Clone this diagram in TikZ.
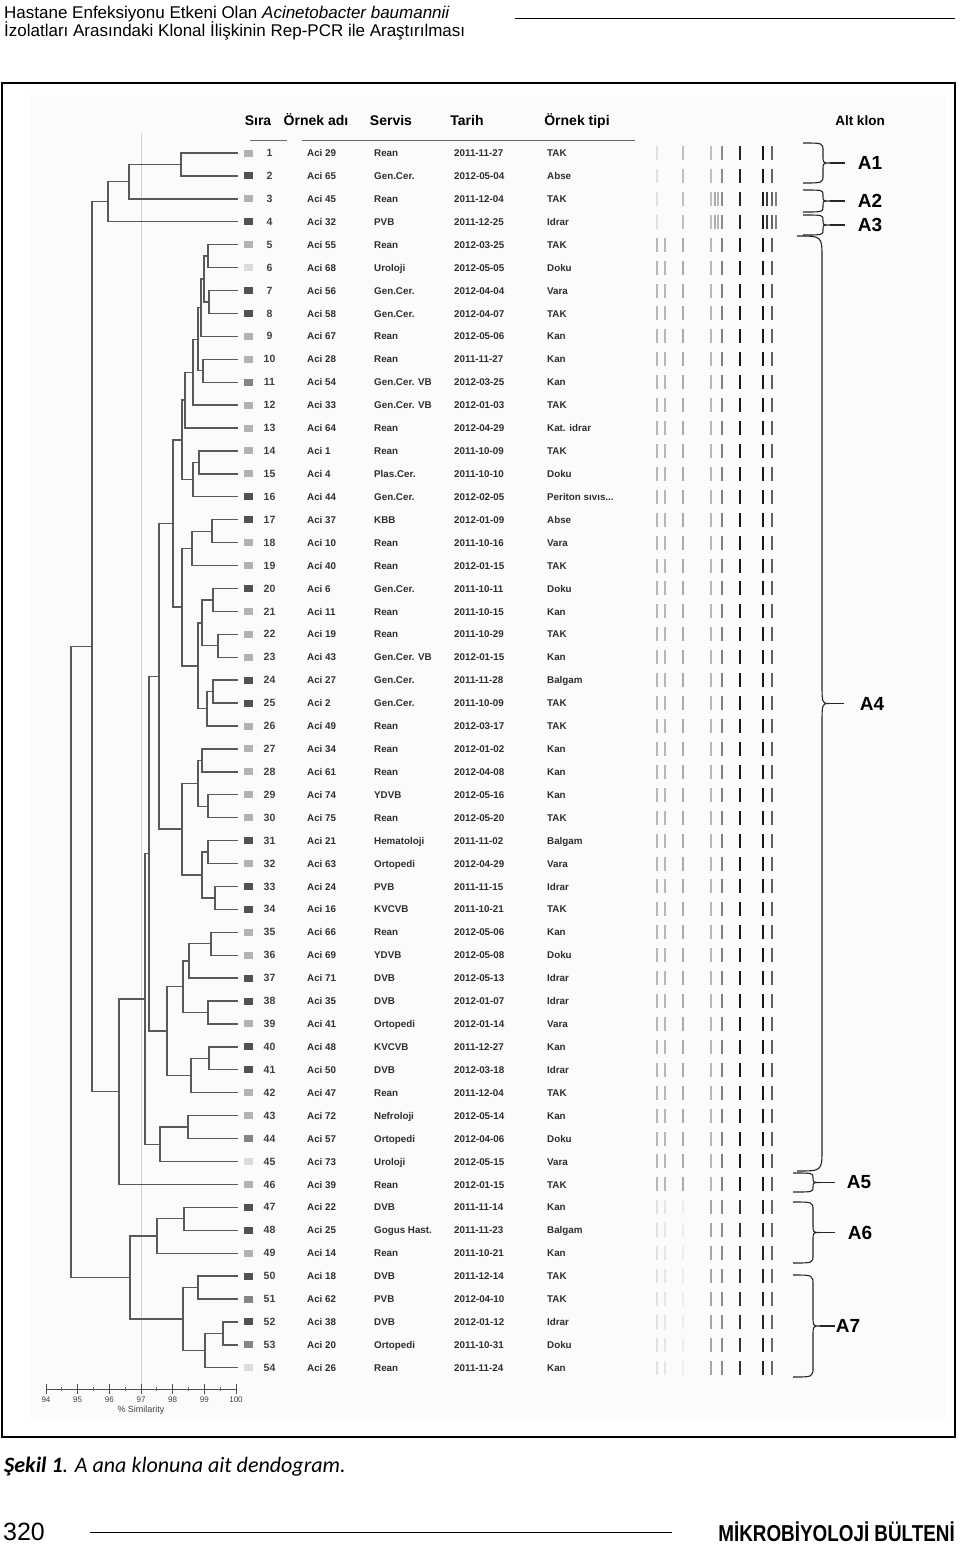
\documentclass[tikz,border=0pt]{standalone}
\usepackage{fontspec}
\setmainfont{Liberation Sans}
\newfontfamily\capfont{Carlito}
\usepackage{graphicx}
\usetikzlibrary{calc}
\colorlet{shl}{black!30}
\colorlet{shd}{black!68}
\colorlet{shm}{black!48}
\colorlet{shv}{black!14}
\newcommand\jn[4]{%
  \coordinate (tmpm) at ($(#3)!0.5!(#4)$);
  \coordinate (tmpx) at (#2,0);
  \coordinate (#1) at (tmpx |- tmpm);
  \draw[dend] (#3) -| (#1) |- (#4);
}
\newcommand\tabrow[6]{%
  \pgfmathsetmacro\yy{153+(#1-1)*22.92}
  \pgfmathsetmacro\yb{\yy+3.6}
  \fill[sh#6] (244,{\yy-3.5}) rectangle (253,{\yy+3.5});
  \node[num] (q#1) at (269.5,\yb) {#1};
  \node[tab] (a#1) at (307,\yb) {#2};
  \node[tab] (s#1) at (374,\yb) {#3};
  \node[tab] (d#1) at (454,\yb) {#4};
  \node[tab] (t#1) at (547,\yb) {#5};
}
\newcommand\cbr[7]{% top, bottom, r, xend, xv, label, labelx
  \pgfmathsetmacro\ym{(#1+#2)/2}
  \draw[brc] (#4,#1) .. controls (#5,#1) .. (#5,{#1+#3}) -- (#5,{\ym-#3})
     .. controls (#5,\ym) .. ({#5+7},\ym) .. controls (#5,\ym) .. (#5,{\ym+#3})
     -- (#5,{#2-#3}) .. controls (#5,#2) .. (#4,#2);
  \draw[brc] ({#5+7},\ym) -- ({#5+22},\ym);
  \node[alab] (#6) at (#7,\ym) {#6};
}
\begin{document}
\begin{tikzpicture}[x=1pt,y=-1pt,
  dend/.style={draw=black!65, line width=1.35pt},
  tab/.style={font=\fontsize{9.8}{10}\selectfont\bfseries, text=black!82, inner sep=0, anchor=base west},
  num/.style={font=\fontsize{10.5}{11}\selectfont\bfseries, text=black!75, inner sep=0, anchor=base},
  hdr/.style={font=\fontsize{14}{14}\selectfont\bfseries, inner sep=0, anchor=base},
  brc/.style={draw=black!85, line width=1.1pt},
  alab/.style={font=\fontsize{19}{19}\selectfont\bfseries, inner sep=0},
  axl/.style={font=\fontsize{8}{8}\selectfont, text=black!75, inner sep=0}
]
\useasboundingbox (0,0) rectangle (960,1547);
% page header
\node[anchor=base west, inner sep=0, font=\fontsize{17}{17}\selectfont] (h1) at (4,18) {Hastane Enfeksiyonu Etkeni Olan \textit{Acinetobacter baumannii}};
\node[anchor=base west, inner sep=0, font=\fontsize{17}{17}\selectfont] (h2) at (4,36) {İzolatları Arasındaki Klonal İlişkinin Rep-PCR ile Araştırılması};
\draw[line width=1pt] (515,18) -- (955,18);
% figure panel
\fill[black!1.5] (30,95) rectangle (945,1420);
\draw[line width=2.2pt] (2,83) rectangle (955,1437);
% table header
\node[hdr] (hs) at (258,125) {Sıra};
\node[hdr] (ho) at (316,125) {Örnek adı};
\node[hdr] (hv) at (391,125) {Servis};
\node[hdr] (ht) at (467,125) {Tarih};
\node[hdr] (hp) at (577,125) {Örnek tipi};
\node[hdr, font=\fontsize{13.5}{14}\selectfont\bfseries] (hk) at (860,125) {Alt klon};
\draw[black!60, line width=1pt] (250,140) -- (287,140);
\draw[black!60, line width=1pt] (302,140) -- (635,140);
% similarity cut line
\draw[black!18, line width=0.8pt] (141,133) -- (141,1389);
% leaves
\foreach \i in {1,...,54}{
  \coordinate (l\i) at (238,{153+(\i-1)*22.92});
}
% dendrogram
\jn{j12}{181}{l1}{l2}
\jn{j13}{129}{j12}{l3}
\jn{j14}{108}{j13}{l4}
\jn{j56}{208}{l5}{l6}
\jn{j78}{209}{l7}{l8}
\jn{j58}{204}{j56}{j78}
\jn{j59}{201}{j58}{l9}
\jn{j1011}{203}{l10}{l11}
\jn{j511}{198}{j59}{j1011}
\jn{j512}{193}{j511}{l12}
\jn{j513}{185}{j512}{l13}
\jn{j1415}{199}{l14}{l15}
\jn{j1416}{193}{j1415}{l16}
\jn{j516}{182}{j513}{j1416}
\jn{j1718}{212}{l17}{l18}
\jn{j1719}{192}{j1718}{l19}
\jn{j2021}{213}{l20}{l21}
\jn{j2223}{218}{l22}{l23}
\jn{j2023}{202}{j2021}{j2223}
\jn{j2425}{213}{l24}{l25}
\jn{j2426}{207}{j2425}{l26}
\jn{j2026}{198}{j2023}{j2426}
\jn{j1726}{182}{j1719}{j2026}
\jn{j526}{173}{j516}{j1726}
\jn{j2728}{202}{l27}{l28}
\jn{j2930}{208}{l29}{l30}
\jn{j2730}{198}{j2728}{j2930}
\jn{j3132}{208}{l31}{l32}
\jn{j3334}{215}{l33}{l34}
\jn{j3134}{202}{j3132}{j3334}
\jn{j2734}{182}{j2730}{j3134}
\jn{j534}{159}{j526}{j2734}
\jn{j3536}{211}{l35}{l36}
\jn{j3537}{189}{j3536}{l37}
\jn{j3839}{208}{l38}{l39}
\jn{j3539}{183}{j3537}{j3839}
\jn{j4041}{209}{l40}{l41}
\jn{j4042}{191}{j4041}{l42}
\jn{j3542}{167}{j3539}{j4042}
\jn{j542}{149}{j534}{j3542}
\jn{j4344}{188}{l43}{l44}
\jn{j4345}{160}{j4344}{l45}
\jn{j545}{145}{j542}{j4345}
\jn{j546}{119}{j545}{l46}
\jn{j146}{92}{j14}{j546}
\jn{j4748}{184}{l47}{l48}
\jn{j4749}{157}{j4748}{l49}
\jn{j5051}{198}{l50}{l51}
\jn{j5253}{223}{l52}{l53}
\jn{j5254}{205}{j5253}{l54}
\jn{j5054}{183}{j5051}{j5254}
\jn{j4754}{130}{j4749}{j5054}
\jn{root}{71}{j146}{j4754}
% axis
\draw[black!70, line width=0.9pt] (46,1389) -- (236,1389);
\foreach \s [count=\k from 0] in {94,95,96,97,98,99,100}{
  \draw[black!70, line width=0.9pt] ({46+\k*31.67},1384) -- ({46+\k*31.67},1394);
  \node[axl] (ax\s) at ({46+\k*31.67},1400) {\s};
}
\foreach \k in {0,...,5}{
  \draw[black!60, line width=0.7pt] ({61.8+\k*31.67},1387) -- ({61.8+\k*31.67},1391);
}
\node[axl, font=\fontsize{9}{9}\selectfont] (axt) at (141,1410) {\% Similarity};
% rows
\tabrow{1}{Aci 29}{Rean}{2011-11-27}{TAK}{l}
\tabrow{2}{Aci 65}{Gen.Cer.}{2012-05-04}{Abse}{d}
\tabrow{3}{Aci 45}{Rean}{2011-12-04}{TAK}{l}
\tabrow{4}{Aci 32}{PVB}{2011-12-25}{Idrar}{d}
\tabrow{5}{Aci 55}{Rean}{2012-03-25}{TAK}{l}
\tabrow{6}{Aci 68}{Uroloji}{2012-05-05}{Doku}{v}
\tabrow{7}{Aci 56}{Gen.Cer.}{2012-04-04}{Vara}{d}
\tabrow{8}{Aci 58}{Gen.Cer.}{2012-04-07}{TAK}{d}
\tabrow{9}{Aci 67}{Rean}{2012-05-06}{Kan}{l}
\tabrow{10}{Aci 28}{Rean}{2011-11-27}{Kan}{l}
\tabrow{11}{Aci 54}{Gen.Cer. VB}{2012-03-25}{Kan}{m}
\tabrow{12}{Aci 33}{Gen.Cer. VB}{2012-01-03}{TAK}{l}
\tabrow{13}{Aci 64}{Rean}{2012-04-29}{Kat. idrar}{l}
\tabrow{14}{Aci 1}{Rean}{2011-10-09}{TAK}{l}
\tabrow{15}{Aci 4}{Plas.Cer.}{2011-10-10}{Doku}{l}
\tabrow{16}{Aci 44}{Gen.Cer.}{2012-02-05}{Periton sıvıs...}{d}
\tabrow{17}{Aci 37}{KBB}{2012-01-09}{Abse}{d}
\tabrow{18}{Aci 10}{Rean}{2011-10-16}{Vara}{l}
\tabrow{19}{Aci 40}{Rean}{2012-01-15}{TAK}{l}
\tabrow{20}{Aci 6}{Gen.Cer.}{2011-10-11}{Doku}{d}
\tabrow{21}{Aci 11}{Rean}{2011-10-15}{Kan}{l}
\tabrow{22}{Aci 19}{Rean}{2011-10-29}{TAK}{l}
\tabrow{23}{Aci 43}{Gen.Cer. VB}{2012-01-15}{Kan}{l}
\tabrow{24}{Aci 27}{Gen.Cer.}{2011-11-28}{Balgam}{d}
\tabrow{25}{Aci 2}{Gen.Cer.}{2011-10-09}{TAK}{d}
\tabrow{26}{Aci 49}{Rean}{2012-03-17}{TAK}{l}
\tabrow{27}{Aci 34}{Rean}{2012-01-02}{Kan}{l}
\tabrow{28}{Aci 61}{Rean}{2012-04-08}{Kan}{l}
\tabrow{29}{Aci 74}{YDVB}{2012-05-16}{Kan}{l}
\tabrow{30}{Aci 75}{Rean}{2012-05-20}{TAK}{l}
\tabrow{31}{Aci 21}{Hematoloji}{2011-11-02}{Balgam}{d}
\tabrow{32}{Aci 63}{Ortopedi}{2012-04-29}{Vara}{l}
\tabrow{33}{Aci 24}{PVB}{2011-11-15}{Idrar}{d}
\tabrow{34}{Aci 16}{KVCVB}{2011-10-21}{TAK}{d}
\tabrow{35}{Aci 66}{Rean}{2012-05-06}{Kan}{l}
\tabrow{36}{Aci 69}{YDVB}{2012-05-08}{Doku}{l}
\tabrow{37}{Aci 71}{DVB}{2012-05-13}{Idrar}{d}
\tabrow{38}{Aci 35}{DVB}{2012-01-07}{Idrar}{d}
\tabrow{39}{Aci 41}{Ortopedi}{2012-01-14}{Vara}{l}
\tabrow{40}{Aci 48}{KVCVB}{2011-12-27}{Kan}{d}
\tabrow{41}{Aci 50}{DVB}{2012-03-18}{Idrar}{d}
\tabrow{42}{Aci 47}{Rean}{2011-12-04}{TAK}{l}
\tabrow{43}{Aci 72}{Nefroloji}{2012-05-14}{Kan}{l}
\tabrow{44}{Aci 57}{Ortopedi}{2012-04-06}{Doku}{m}
\tabrow{45}{Aci 73}{Uroloji}{2012-05-15}{Vara}{v}
\tabrow{46}{Aci 39}{Rean}{2012-01-15}{TAK}{l}
\tabrow{47}{Aci 22}{DVB}{2011-11-14}{Kan}{d}
\tabrow{48}{Aci 25}{Gogus Hast.}{2011-11-23}{Balgam}{d}
\tabrow{49}{Aci 14}{Rean}{2011-10-21}{Kan}{l}
\tabrow{50}{Aci 18}{DVB}{2011-12-14}{TAK}{d}
\tabrow{51}{Aci 62}{PVB}{2012-04-10}{TAK}{m}
\tabrow{52}{Aci 38}{DVB}{2012-01-12}{Idrar}{d}
\tabrow{53}{Aci 20}{Ortopedi}{2011-10-31}{Doku}{m}
\tabrow{54}{Aci 26}{Rean}{2011-11-24}{Kan}{v}
% bands
\foreach \r in {1,...,4}{
  \pgfmathsetmacro\yy{153+(\r-1)*22.92}
  \foreach \bx/\bo in {657/12,683/25,711/25,722/45,740/85,763/90,772/60}
    \fill[black!\bo] ({\bx-1.3},{\yy-7}) rectangle ({\bx+1.3},{\yy+7});
}
\foreach \r in {3,4}{
  \pgfmathsetmacro\yy{153+(\r-1)*22.92}
  \foreach \bx/\bo in {715/32,718/28,767/75,776/50}
    \fill[black!\bo] ({\bx-1.2},{\yy-7}) rectangle ({\bx+1.2},{\yy+7});
}
\foreach \r in {5,...,46}{
  \pgfmathsetmacro\yy{153+(\r-1)*22.92}
  \foreach \bx/\bo in {657/28,665/28,683/33,711/28,722/50,740/90,763/90,772/62}
    \fill[black!\bo] ({\bx-1.3},{\yy-7}) rectangle ({\bx+1.3},{\yy+7});
}
\foreach \r in {47,...,54}{
  \pgfmathsetmacro\yy{153+(\r-1)*22.92}
  \foreach \bx/\bo in {657/12,665/10,683/7,711/35,722/45,740/80,763/85,772/58}
    \fill[black!\bo] ({\bx-1.3},{\yy-7}) rectangle ({\bx+1.3},{\yy+7});
}
% sub-clone braces
\cbr{143}{183}{8}{803}{823}{A1}{870}
\cbr{190}{212}{5}{803}{823}{A2}{870}
\cbr{215}{235}{5}{803}{823}{A3}{870}
\cbr{236}{1171}{22}{797}{822}{A4}{872}
\cbr{1173}{1192}{5}{793}{813}{A5}{859}
\cbr{1202}{1263}{8}{793}{813}{A6}{860}
\cbr{1275}{1377}{10}{793}{813}{A7}{848}
% caption and footer
\node[anchor=base west, inner sep=0, font=\capfont\fontsize{22}{22}\selectfont\itshape] (cap) at (4,1472) {\textbf{Şekil 1}. A ana klonuna ait dendogram.};
\node[anchor=west, inner sep=0, font=\fontsize{25}{25}\selectfont] (pg) at (3,1532) {320};
\draw[line width=1pt] (90,1532) -- (672,1532);
\node[anchor=east, inner sep=0, font=\fontsize{23}{23}\selectfont\bfseries] (jr) at (955,1532) {\scalebox{0.82}[1]{MİKROBİYOLOJİ BÜLTENİ}};
\end{tikzpicture}
\end{document}
